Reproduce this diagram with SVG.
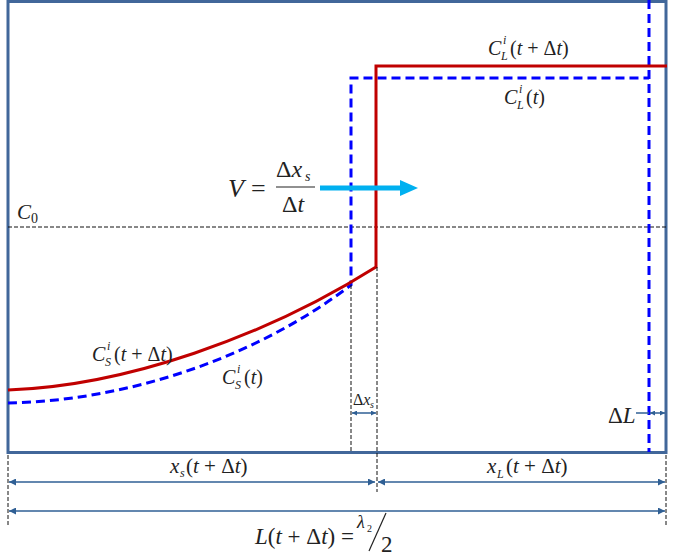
<svg xmlns="http://www.w3.org/2000/svg" width="675" height="557" viewBox="0 0 675 557">
<defs>
<style>
text{font-family:"Liberation Serif","DejaVu Serif","Times New Roman",serif;font-style:italic;fill:#222;}
.n{font-style:normal;}
.dim{stroke:#2f5f94;stroke-width:1.5;fill:none;}
.guide{stroke:#111;stroke-width:1;stroke-dasharray:4,2;fill:none;}
.red{stroke:#c00000;stroke-width:3;fill:none;}
.blue{stroke:#0000ff;stroke-width:3;stroke-dasharray:9,5;fill:none;}
</style>
<marker id="ah" viewBox="0 0 10 10" refX="10" refY="5" markerWidth="7" markerHeight="7" orient="auto-start-reverse" markerUnits="userSpaceOnUse">
<path d="M0,0 L10,5 L0,10 z" fill="#2f5f94"/>
</marker>
<marker id="ahs" viewBox="0 0 10 10" refX="10" refY="5" markerWidth="5" markerHeight="5" orient="auto-start-reverse" markerUnits="userSpaceOnUse">
<path d="M0,0 L10,5 L0,10 z" fill="#2f5f94"/>
</marker>
</defs>
<rect width="675" height="557" fill="#fff"/>
<g id="box">
<rect x="8" y="1.5" width="658" height="451" fill="none" stroke="#41679a" stroke-width="3"/>
</g>
<g id="c0line">
<line x1="8" y1="227" x2="666" y2="227" class="guide"/>
<text x="17" y="219" font-size="21">C</text>
<text class="n" x="31" y="223" font-size="14">0</text>
</g>
<g id="profile-t">
<path class="blue" d="M8,403 C120,401 250,362 351,285 L351,78 L649,78"/>
<line class="blue" x1="649" y1="0" x2="649" y2="452"/>
</g>
<g id="profile-tdt">
<path class="red" d="M8,390 C125,386 265,337 376,267 L376,66 L667,66"/>
</g>
<g id="connectors">
<line class="guide" x1="351" y1="285" x2="351" y2="452"/>
<line class="guide" x1="377" y1="267" x2="377" y2="492"/>
<line class="guide" x1="8" y1="455" x2="8" y2="525"/>
<line class="guide" x1="666" y1="455" x2="666" y2="525"/>
<line class="dim" x1="352" y1="413" x2="376" y2="413" marker-start="url(#ahs)" marker-end="url(#ahs)" stroke-width="1.2"/>
<line class="dim" x1="636" y1="413" x2="649" y2="413" stroke-width="1"/>
<line class="dim" x1="650" y1="413" x2="665" y2="413" marker-start="url(#ahs)" marker-end="url(#ahs)" stroke-width="1.2"/>
<line class="dim" x1="9" y1="482" x2="375" y2="482" marker-start="url(#ah)" marker-end="url(#ah)"/>
<line class="dim" x1="378" y1="482" x2="665" y2="482" marker-start="url(#ah)" marker-end="url(#ah)"/>
<line class="dim" x1="9" y1="511" x2="665" y2="511" marker-start="url(#ah)" marker-end="url(#ah)"/>
</g>
<g id="velocity">
<line x1="320" y1="188" x2="402" y2="188" stroke="#00b0f0" stroke-width="5"/>
<path d="M400,180 L418,188 L400,196 z" fill="#00b0f0"/>
<text x="228" y="197" font-size="26">V</text>
<text class="n" x="251" y="197" font-size="26">=</text>
<text x="276" y="177" font-size="24"><tspan class="n">Δ</tspan>x</text>
<text x="305" y="181" font-size="14">s</text>
<line x1="276" y1="187" x2="315" y2="187" stroke="#222" stroke-width="1.2"/>
<text x="282" y="212" font-size="24"><tspan class="n">Δ</tspan>t</text>
</g>
<g id="labels">
<text x="488" y="55" font-size="20">C</text>
<text x="503" y="44" font-size="12">i</text>
<text x="501" y="60" font-size="12">L</text>
<text x="510" y="55" font-size="20"><tspan class="n">(</tspan>t <tspan class="n">+ Δ</tspan>t<tspan class="n">)</tspan></text>

<text x="504" y="104" font-size="20">C</text>
<text x="519" y="93" font-size="12">i</text>
<text x="517" y="109" font-size="12">L</text>
<text x="526" y="104" font-size="20"><tspan class="n">(</tspan>t<tspan class="n">)</tspan></text>

<text x="92" y="361" font-size="20">C</text>
<text x="107" y="350" font-size="12">i</text>
<text x="105" y="366" font-size="12">S</text>
<text x="114" y="361" font-size="20"><tspan class="n">(</tspan>t <tspan class="n">+ Δ</tspan>t<tspan class="n">)</tspan></text>

<text x="222" y="384" font-size="20">C</text>
<text x="237" y="373" font-size="12">i</text>
<text x="235" y="389" font-size="12">S</text>
<text x="244" y="384" font-size="20"><tspan class="n">(</tspan>t<tspan class="n">)</tspan></text>

<text x="353" y="405" font-size="16"><tspan class="n">Δ</tspan>x</text>
<text x="370" y="408" font-size="10">s</text>
<text x="608" y="423" font-size="23"><tspan class="n">Δ</tspan>L</text>

<text x="170" y="473" font-size="21">x</text>
<text x="180" y="477" font-size="12">s</text>
<text x="186" y="473" font-size="21"><tspan class="n">(</tspan>t <tspan class="n">+ Δ</tspan>t<tspan class="n">)</tspan></text>

<text x="487" y="473" font-size="21">x</text>
<text x="497" y="478" font-size="12">L</text>
<text x="506" y="473" font-size="21"><tspan class="n">(</tspan>t <tspan class="n">+ Δ</tspan>t<tspan class="n">)</tspan></text>

<text x="255" y="544" font-size="23">L<tspan class="n">(</tspan>t <tspan class="n">+ Δ</tspan>t<tspan class="n">) =</tspan></text>
<text x="357" y="528" font-size="18">λ</text>
<text class="n" x="367" y="532" font-size="10">2</text>
<line x1="369" y1="551" x2="386" y2="513" stroke="#222" stroke-width="1.2"/>
<text class="n" x="381" y="552" font-size="23">2</text>
</g>
</svg>
